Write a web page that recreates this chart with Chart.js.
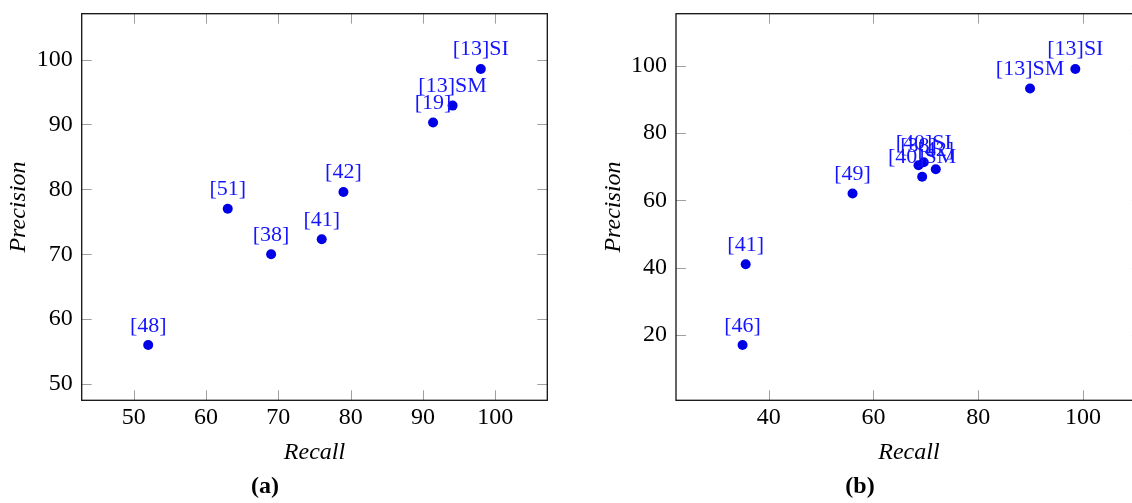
<!DOCTYPE html>
<html><head><meta charset="utf-8">
<script src="https://cdn.jsdelivr.net/npm/chart.js@4/dist/chart.umd.min.js"></script>
<style>
html,body{margin:0;padding:0;width:1132px;height:503px;overflow:hidden;background:#fff;}
#wa{position:absolute;left:0;top:0;width:566px;height:503px;}
#wb{position:absolute;left:566px;top:0;width:600px;height:503px;}
.cap{position:absolute;top:485px;font:bold 24px "Liberation Serif",serif;color:#000;transform:translate(-50%,-50%);white-space:nowrap;}
</style></head><body>
<div id="wa"><canvas id="ca" width="566" height="503" style="width:566px;height:503px"></canvas></div>
<div id="wb"><canvas id="cb" width="600" height="503" style="width:600px;height:503px"></canvas></div>
<div class="cap" style="left:265px">(a)</div>
<div class="cap" style="left:860px">(b)</div>
<script>
// ---- data (a) ----
const labelsA    = ['[48]', '[51]', '[38]', '[41]', '[42]', '[19]', '[13]SM', '[13]SI'];
const recallA    = [52, 63, 69, 76, 79, 91.4, 94.1, 98];
const precisionA = [56, 77, 70, 72.3, 79.6, 90.3, 92.9, 98.55];
const xTicksA = [50, 60, 70, 80, 90, 100];
const yTicksA = [50, 60, 70, 80, 90, 100];
// ---- data (b) ----
const labelsB    = ['[46]', '[41]', '[49]', '[38]', '[40]SI', '[40]SM', '[42]', '[13]SM', '[13]SI'];
const recallB    = [35, 35.6, 56, 68.6, 69.6, 69.3, 71.9, 89.9, 98.55];
const precisionB = [17, 41, 62, 70.4, 71.3, 67, 69.2, 93.2, 99];
const xTicksB = [40, 60, 80, 100];
const yTicksB = [20, 40, 60, 80, 100];

const AXIS_TITLE_X = 'Recall';
const AXIS_TITLE_Y = 'Precision';
const SERIF = '"Liberation Serif", "Times New Roman", serif';
const DOT = 'rgb(0,0,230)';
const TXT = 'rgb(20,20,255)';

Chart.defaults.font.family = SERIF;

function range(arr) {
  const lo = Math.min(...arr), hi = Math.max(...arr), e = 0.2 * (hi - lo);
  return [lo - e, hi + e];
}

const framePlugin = {
  id: 'frame',
  afterDraw(chart) {
    const {ctx, chartArea: a, scales: {x, y}} = chart;
    ctx.save();
    ctx.strokeStyle = '#a0a0a0';
    ctx.lineWidth = 1;
    const L = 10;
    ctx.beginPath();
    x.ticks.forEach(t => {
      const px = Math.round(x.getPixelForValue(t.value)) + 0.5;
      ctx.moveTo(px, a.bottom); ctx.lineTo(px, a.bottom - L);
      ctx.moveTo(px, a.top); ctx.lineTo(px, a.top + L);
    });
    y.ticks.forEach(t => {
      const py = Math.round(y.getPixelForValue(t.value)) + 0.5;
      ctx.moveTo(a.left, py); ctx.lineTo(a.left + L, py);
      ctx.moveTo(a.right, py); ctx.lineTo(a.right - L, py);
    });
    ctx.stroke();
    ctx.strokeStyle = '#111';
    ctx.lineWidth = 1.3;
    ctx.strokeRect(a.left, a.top, a.right - a.left, a.bottom - a.top);
    ctx.restore();
  }
};

const labelPlugin = {
  id: 'pointLabels',
  afterDatasetsDraw(chart) {
    const {ctx} = chart;
    ctx.save();
    ctx.font = '22px ' + SERIF;
    ctx.fillStyle = TXT;
    ctx.textAlign = 'center';
    ctx.textBaseline = 'alphabetic';
    chart.data.datasets.forEach((ds, i) => {
      const meta = chart.getDatasetMeta(i);
      meta.data.forEach((el, j) => {
        ctx.fillText(ds.pointLabels[j], el.x, el.y - 13.5);
      });
    });
    ctx.restore();
  }
};

function makeChart(id, labels, xs, ys, xt, yt, yAxisWidth, yTitlePad, rightPad) {
  const [xmin, xmax] = range(xs);
  const [ymin, ymax] = range(ys);
  return new Chart(document.getElementById(id), {
    type: 'scatter',
    data: {
      datasets: [{
        data: xs.map((v, i) => ({x: v, y: ys[i]})),
        pointLabels: labels,
        pointRadius: 5,
        pointBackgroundColor: DOT,
        pointBorderColor: DOT,
        pointBorderWidth: 0
      }]
    },
    options: {
      responsive: false,
      animation: false,
      events: [],
      layout: {padding: {top: 13.7, left: 0, right: rightPad, bottom: 0}},
      plugins: {legend: {display: false}, tooltip: {enabled: false}},
      scales: {
        x: {
          type: 'linear', position: 'bottom', min: xmin, max: xmax,
          afterBuildTicks: s => { s.ticks = xt.map(v => ({value: v})); },
          afterFit: s => { s.height = 102.7; s.paddingLeft = 0; s.paddingRight = 0; },
          grid: {display: false, drawTicks: false}, border: {display: false},
          ticks: {font: {size: 24}, color: '#000', padding: 3, maxRotation: 0, autoSkip: false},
          title: {display: true, text: AXIS_TITLE_X, color: '#000',
                  font: {size: 24, style: 'italic'}, padding: {top: 0, bottom: 35.6}}
        },
        y: {
          type: 'linear', position: 'left', min: ymin, max: ymax,
          afterBuildTicks: s => { s.ticks = yt.map(v => ({value: v})); },
          afterFit: s => { s.width = yAxisWidth; s.paddingTop = 0; s.paddingBottom = 0; },
          grid: {display: false, drawTicks: false}, border: {display: false},
          ticks: {font: {size: 24}, color: '#000', padding: 9, autoSkip: false},
          title: {display: true, text: AXIS_TITLE_Y, color: '#000',
                  font: {size: 24, style: 'italic'}, padding: {top: yTitlePad, bottom: 0}}
        }
      }
    },
    plugins: [framePlugin, labelPlugin]
  });
}

makeChart('ca', labelsA, recallA, precisionA, xTicksA, yTicksA, 81.7, 3.9, 18.7);
makeChart('cb', labelsB, recallB, precisionB, xTicksB, yTicksB, 110, 33.6, 24.1);
</script>
</body></html>
